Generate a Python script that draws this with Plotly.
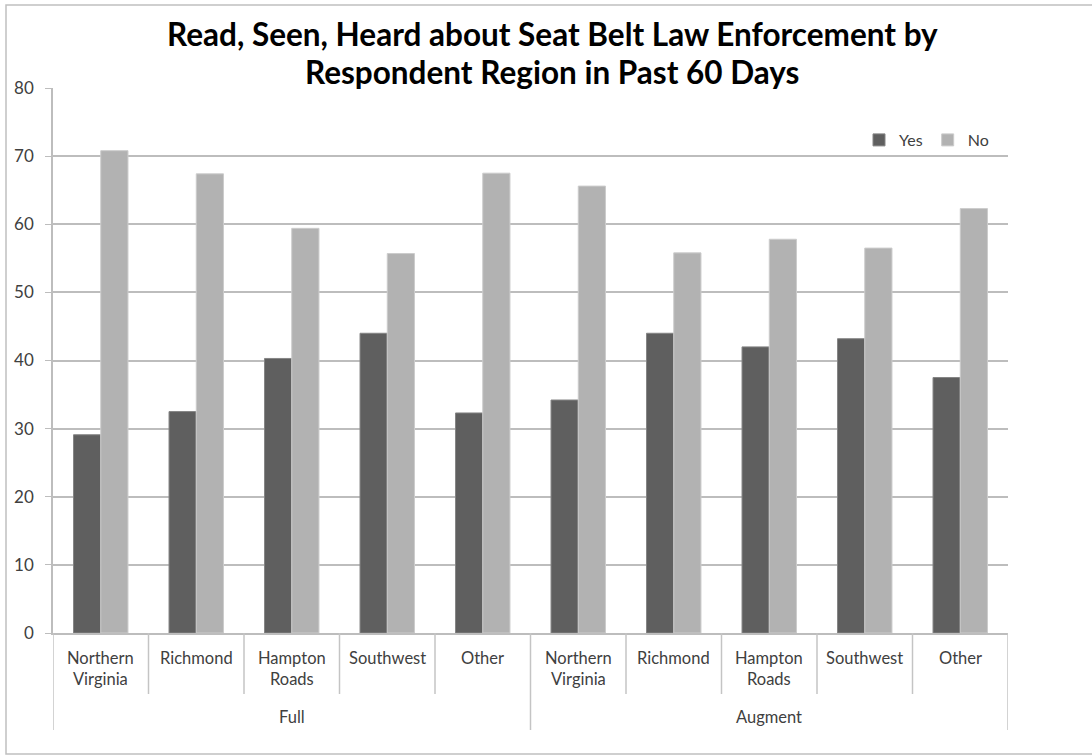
import plotly.graph_objects as go

# Survey data: share of respondents who read/saw/heard about enforcement
groups = ["Full", "Augment"]
regions = ["Northern<br>Virginia", "Richmond", "Hampton<br>Roads", "Southwest", "Other"]
yes_vals = [29.1, 32.5, 40.3, 44.0, 32.3, 34.2, 44.0, 42.0, 43.2, 37.5]
no_vals = [70.8, 67.4, 59.4, 55.7, 67.5, 65.6, 55.8, 57.8, 56.5, 62.3]
y_ticks = [0, 10, 20, 30, 40, 50, 60, 70, 80]

FONT = "Lato"
TEXT = "#404040"
LINE = "#c4c4c4"

n_reg = len(regions)
x_pos = list(range(len(groups) * n_reg))

# plot-area geometry in pixels (used to convert to paper fractions)
W, H = 1092, 755
ML, MR, MT, MB = 53, 84, 88, 122
PW, PH = W - ML - MR, H - MT - MB


def py(px_y):
    """pixel row -> paper y"""
    return (H - MB - px_y) / PH


def px(px_x):
    """pixel column -> paper x"""
    return (px_x - ML) / PW


fig = go.Figure()
fig.add_trace(go.Bar(
    x=x_pos, y=yes_vals, name="Yes",
    marker=dict(color="#5f5f5f", line=dict(color="#858585", width=1)),
))
fig.add_trace(go.Bar(
    x=x_pos, y=no_vals, name="No",
    marker=dict(color="#b2b2b2", line=dict(color="#cccccc", width=1)),
))

annotations = [
    dict(text="<b>Read, Seen, Heard about Seat Belt Law Enforcement by</b>",
         x=px(552), xref="paper", y=py(34), yref="paper", yanchor="middle",
         showarrow=False, font=dict(family=FONT, size=31.5, color="#000000")),
    dict(text="<b>Respondent Region in Past 60 Days</b>",
         x=px(552), xref="paper", y=py(72), yref="paper", yanchor="middle",
         showarrow=False, font=dict(family=FONT, size=31.5, color="#000000")),
]

shapes = []
# region labels and short dividers
for gi, g in enumerate(groups):
    for ri, r in enumerate(regions):
        xi = gi * n_reg + ri
        annotations.append(dict(
            text=r, x=xi, xref="x", y=py(646), yref="paper", yanchor="top",
            showarrow=False, align="center",
            font=dict(family=FONT, size=16.5, color=TEXT),
        ))
        if ri > 0:
            shapes.append(dict(type="line", xref="x", yref="paper",
                               x0=xi - 0.5, x1=xi - 0.5, y0=py(633), y1=py(694),
                               line=dict(color=LINE, width=1.5)))
    annotations.append(dict(
        text=g, x=gi * n_reg + (n_reg - 1) / 2, xref="x", y=py(717), yref="paper",
        yanchor="middle", showarrow=False,
        font=dict(family=FONT, size=16.5, color=TEXT),
    ))

# group dividers (full height through both label rows)
for gi in range(len(groups) + 1):
    xb = gi * n_reg - 0.5
    shapes.append(dict(type="line", xref="x", yref="paper",
                       x0=xb, x1=xb, y0=py(633), y1=py(730),
                       line=dict(color=LINE, width=1.5)))

# outer chart frame
shapes.append(dict(type="rect", xref="paper", yref="paper",
                   x0=px(6), x1=px(1100),
                   y0=py(754), y1=py(5),
                   line=dict(color="#c0c0c0", width=1.5), layer="below"))

fig.update_layout(
    width=W, height=H,
    margin=dict(l=ML, r=MR, t=MT, b=MB),
    paper_bgcolor="white", plot_bgcolor="white",
    barmode="group", bargap=0.43, bargroupgap=0,
    font=dict(family=FONT, color=TEXT, size=16),
    legend=dict(
        orientation="h", x=px(994), xanchor="right", y=py(140), yanchor="middle",
        font=dict(family=FONT, size=16, color=TEXT),
        bgcolor="rgba(0,0,0,0)", itemwidth=30,
    ),
    showlegend=True,
    annotations=annotations,
    shapes=shapes,
)

fig.update_yaxes(
    range=[0, 80], tickvals=y_ticks,
    showgrid=True, gridcolor="#bdbdbd", gridwidth=1.5,
    showline=True, linecolor="#bdbdbd", linewidth=1.5,
    ticks="outside", ticklen=6, tickcolor="#bdbdbd",
    ticklabelstandoff=8,
    tickfont=dict(family=FONT, size=17, color=TEXT),
    zeroline=False,
)
fig.update_xaxes(
    range=[-0.5, len(x_pos) - 0.5],
    showticklabels=False, ticks="",
    showline=True, linecolor="#bdbdbd", linewidth=1.5,
    showgrid=False, zeroline=False,
)

fig.write_html("out.html")
